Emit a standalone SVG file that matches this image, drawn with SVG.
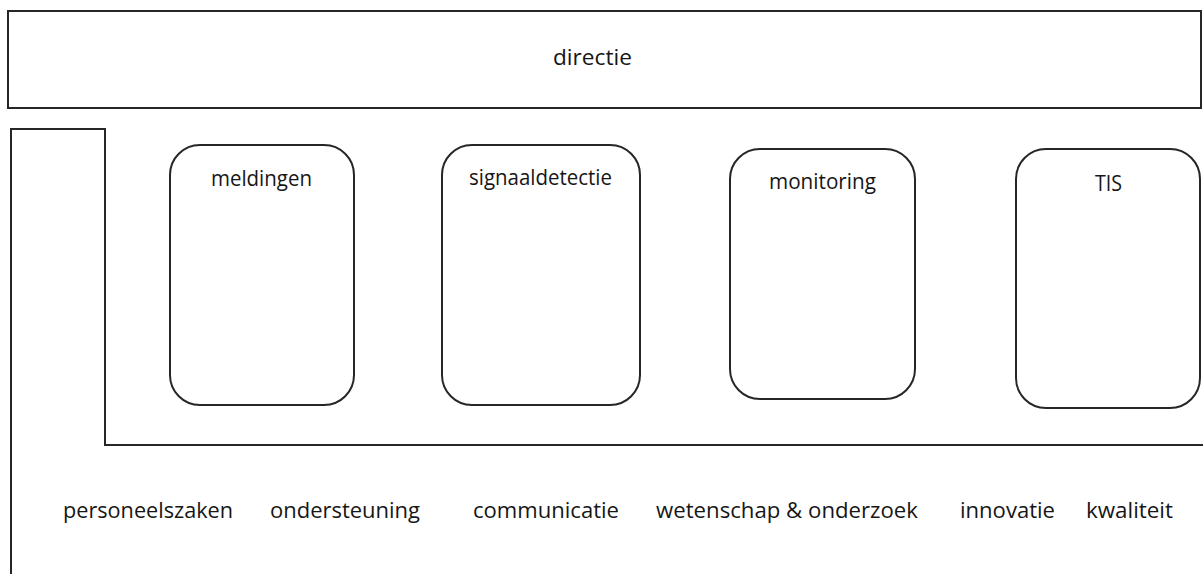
<svg xmlns="http://www.w3.org/2000/svg" width="1203" height="574" viewBox="0 0 1203 574">
<style>
.box{fill:#fff;stroke:#262626;stroke-width:2}
.line{fill:none;stroke:#262626;stroke-width:2}
text{font-family:"Open Sans","DejaVu Sans",sans-serif;font-size:22px;fill:#161616}
</style>
<rect width="1203" height="574" fill="#fff"/>
<g id="directie">
<rect class="box" x="8" y="11" width="1193" height="97"/>
<text x="553" y="65" textLength="79" lengthAdjust="spacingAndGlyphs">directie</text>
</g>
<g id="connectors">
<path class="line" d="M11 574 L11 129 L105 129 L105 445 L1203 445"/>
</g>
<g id="meldingen">
<rect class="box" x="170" y="145" width="184" height="260" rx="30"/>
<text x="211" y="186" textLength="101" lengthAdjust="spacingAndGlyphs">meldingen</text>
</g>
<g id="signaaldetectie">
<rect class="box" x="442" y="145" width="198" height="260" rx="30"/>
<text x="469" y="185" textLength="143" lengthAdjust="spacingAndGlyphs">signaaldetectie</text>
</g>
<g id="monitoring">
<rect class="box" x="730" y="149" width="185" height="250" rx="30"/>
<text x="769" y="189" textLength="107" lengthAdjust="spacingAndGlyphs">monitoring</text>
</g>
<g id="tis">
<rect class="box" x="1016" y="149" width="184" height="259" rx="30"/>
<text x="1095" y="191" textLength="27" lengthAdjust="spacingAndGlyphs">TIS</text>
</g>
<g id="staff">
<text x="63" y="518" textLength="170" lengthAdjust="spacingAndGlyphs">personeelszaken</text>
<text x="270" y="518" textLength="150" lengthAdjust="spacingAndGlyphs">ondersteuning</text>
<text x="473" y="518" textLength="146" lengthAdjust="spacingAndGlyphs">communicatie</text>
<text x="656" y="518" textLength="262" lengthAdjust="spacingAndGlyphs">wetenschap &amp; onderzoek</text>
<text x="960" y="518" textLength="95" lengthAdjust="spacingAndGlyphs">innovatie</text>
<text x="1086" y="518" textLength="87" lengthAdjust="spacingAndGlyphs">kwaliteit</text>
</g>
</svg>
